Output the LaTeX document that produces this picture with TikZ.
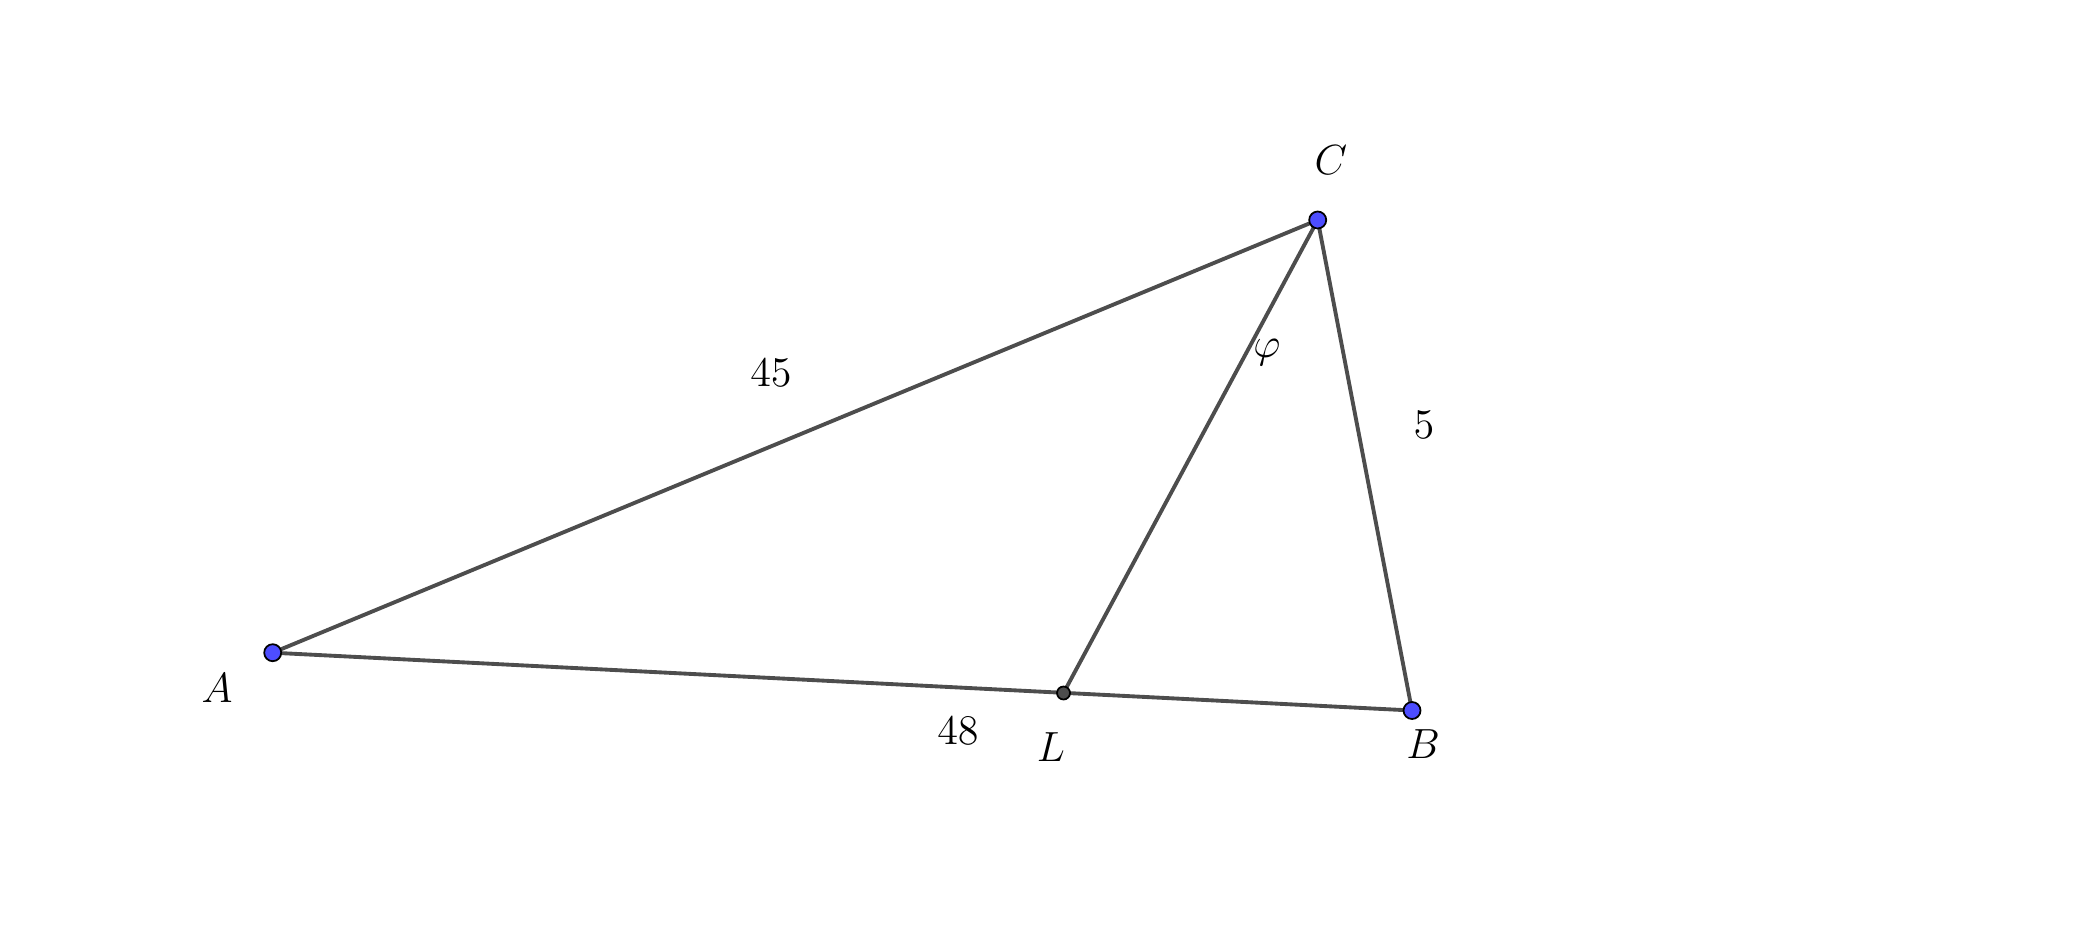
\documentclass[tikz,border=0pt]{standalone}
\usepackage{amsmath}
\usetikzlibrary{positioning}
\usetikzlibrary{calc}
\definecolor{seg}{HTML}{4D4D4D}
\definecolor{ptblue}{HTML}{4D4DFF}

\begin{document}
\begin{tikzpicture}[point/.style={draw=black, circle, fill=ptblue, inner sep=0pt, minimum size=1.7mm, line width=0.5pt},
                    lpoint/.style={draw=black, circle, fill=seg, inner sep=0pt, minimum size=1.3mm, line width=0.5pt},
                    side/.style={seg, line width=1.1pt},
                    lab/.style={font=\large}]
            \useasboundingbox (0,0) rectangle (20.91,9.32);
            \coordinate (A) at (2.727,2.793);
            \coordinate (B) at (14.120,2.215);
            \coordinate (C) at (13.177,7.120);
            \coordinate (L) at (10.635,2.390);

            \draw[side] (A) -- (B);
            \draw[side] (A) -- (C);
            \draw[side] (C) -- (B);
            \draw[side] (C) -- (L);

            \node[point] (pA) at (A) {};
            \node[point] (pB) at (B) {};
            \node[point] (pC) at (C) {};
            \node[lpoint] (pL) at (L) {};

            \node[lab] (labA) at (2.17,2.44) {$A$};
            \node[lab] (labB) at (14.23,1.88) {$B$};
            \node[lab] (labC) at (13.31,7.72) {$C$};
            \node[lab] (labL) at (10.51,1.85) {$L$};
            \node[lab] (lenAB) at (9.58,2.01) {$48$};
            \node[lab] (lenAC) at (7.71,5.59) {$45$};
            \node[lab] (lenBC) at (14.24,5.07) {$5$};
            \node[lab] (ang) at (12.67,5.79) {$\varphi$};
        \end{tikzpicture}
\end{document}
